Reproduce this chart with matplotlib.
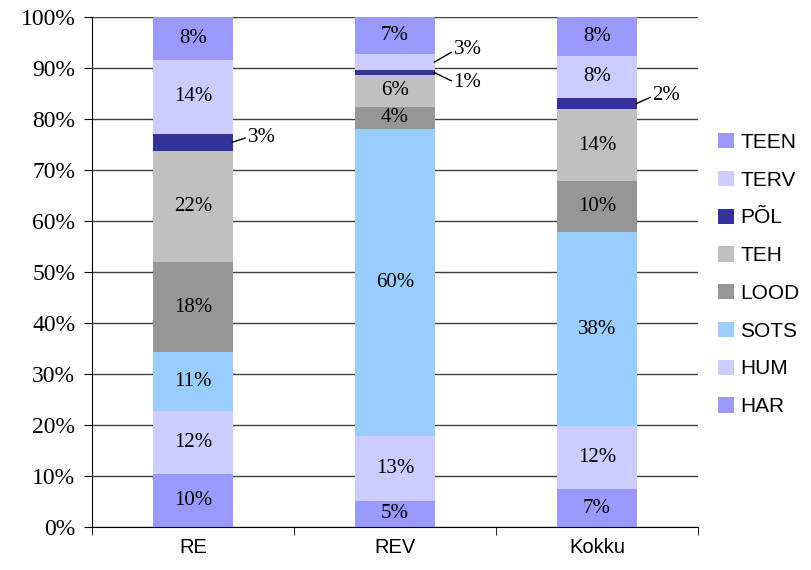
import matplotlib.pyplot as plt
import numpy as np

# Andmed (protsendid, loetud jooniselt)
categories = ['RE', 'REV', 'Kokku']
series = ['HAR', 'HUM', 'SOTS', 'LOOD', 'TEH', 'PÕL', 'TERV', 'TEEN']
har = [10.4, 5.2, 7.4]
hum = [12.4, 12.6, 12.4]
sots = [11.4, 60.2, 37.9]
lood = [17.6, 4.4, 10.0]
teh = [21.8, 6.2, 14.2]
pol = [3.4, 1.0, 2.1]
terv = [14.4, 3.1, 8.3]
teen = [8.4, 7.3, 7.6]
y_ticks = [0, 10, 20, 30, 40, 50, 60, 70, 80, 90, 100]

colors = ['#9999FF', '#CCCCFF', '#99CCFF', '#969696', '#C0C0C0', '#333399', '#CCCCFF', '#9999FF']

data = np.array([har, hum, sots, lood, teh, pol, terv, teen])
data = data / data.sum(axis=0) * 100  # 100% tulbad

# väikesed lõigud: silt paremale koos joonega (dx, dy teksti nihe)
callouts = {
    (0, 5): (0.07, 1.0),
    (1, 6): (0.09, 2.4),
    (1, 5): (0.09, -2.0),
    (2, 5): (0.075, 1.5),
}

serif = 'Liberation Serif'
sans = 'Liberation Sans'

fig = plt.figure(figsize=(8.11, 5.70), dpi=100)
ax = fig.add_axes([0.1134, 0.0754, 0.7473, 0.8948])

x = np.arange(len(categories))
width = 0.4
bottom = np.zeros(len(categories))
for i, name in enumerate(series):
    ax.bar(x, data[i], width, bottom=bottom, color=colors[i], label=name, zorder=3)
    for j in range(len(categories)):
        v = data[i, j]
        mid = bottom[j] + v / 2
        txt = f'{v:.0f}%'
        if (j, i) in callouts:
            dx, dy = callouts[(j, i)]
            x0 = x[j] + width / 2
            ax.plot([x0 - 0.005, x0 + dx - 0.012], [mid, mid + dy * 0.8], color='black',
                    lw=1, zorder=4, clip_on=False)
            ax.text(x0 + dx, mid + dy, txt, ha='left', va='center',
                    fontsize=15, family=serif, zorder=5)
        else:
            ax.text(x[j], mid, txt, ha='center', va='center',
                    fontsize=15, family=serif, zorder=5)
    bottom += data[i]

ax.set_xlim(-0.5, 2.5)
ax.set_ylim(0, 100)
ax.set_yticks(y_ticks)
ax.set_yticklabels([f'{t}%' for t in y_ticks], family=serif, fontsize=17)
ax.set_xticks(x)
ax.set_xticklabels(categories, family=sans, fontsize=14.5)
ax.set_xticks([-0.5, 0.5, 1.5, 2.5], minor=True)
ax.tick_params(axis='x', which='major', length=0, pad=8)
ax.tick_params(axis='x', which='minor', length=6, direction='out', color='black')
ax.tick_params(axis='y', length=6, direction='out', color='black', pad=6)

ax.grid(axis='y', color='#404040', linewidth=1, zorder=0)
for side in ['top', 'right']:
    ax.spines[side].set_visible(False)
ax.spines['left'].set_color('black')
ax.spines['bottom'].set_color('black')
ax.spines['left'].set_zorder(6)
ax.spines['bottom'].set_zorder(6)

handles, labels = ax.get_legend_handles_labels()
leg = ax.legend(handles[::-1], labels[::-1], loc='center left',
                bbox_to_anchor=(1.02, 0.495), frameon=False,
                prop={'family': sans, 'size': 15}, handlelength=0.75,
                handleheight=0.75, handletextpad=0.3, labelspacing=0.9,
                borderaxespad=0)

fig.savefig('out.png', dpi=100)
